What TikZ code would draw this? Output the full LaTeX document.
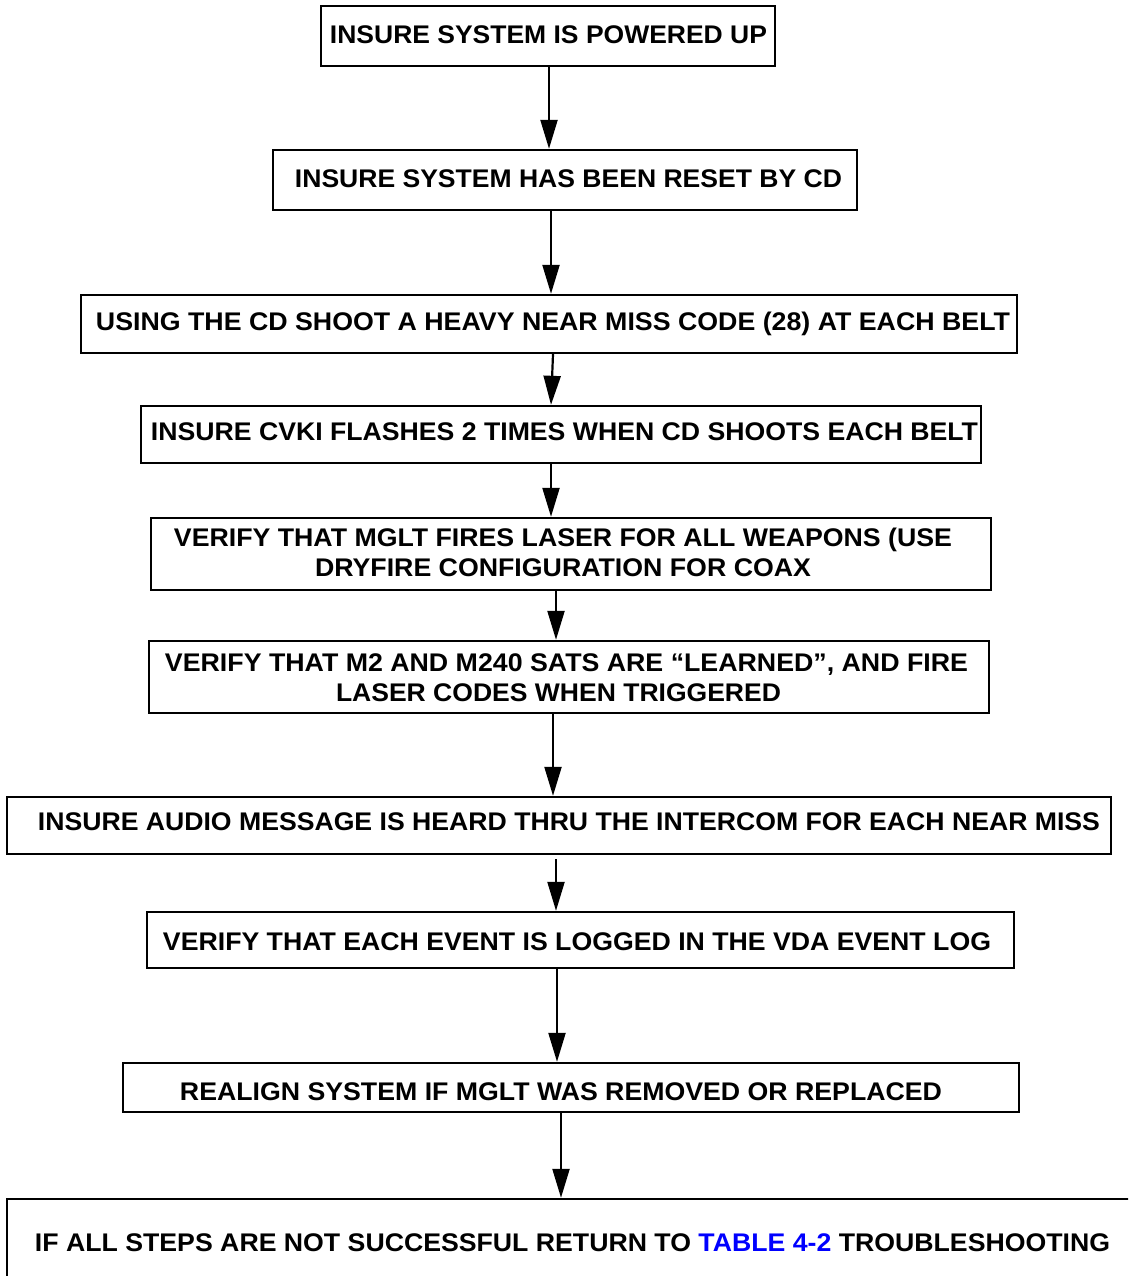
\documentclass[tikz,border=0pt]{standalone}
\usepackage{fontspec}
\setmainfont{Liberation Sans}
\usetikzlibrary{arrows.meta}
% set one line of text at a fixed width, keeping its height
\newcommand{\fitline}[2]{\resizebox{#1pt}{\height}{#2}}
\begin{document}
\begin{tikzpicture}[x=1pt,y=-1pt,
  box/.style={draw, line width=2.4pt, inner sep=0pt},
  lbl/.style={anchor=base, inner sep=0pt, font=\fontsize{25.5}{30}\selectfont\bfseries},
  arr/.style={-{Triangle[length=29pt,width=17pt]}, line width=2.2pt}]
\useasboundingbox (0,0) rectangle (1128,1276);
\clip (0,0) rectangle (1128,1276);
\fill[white] (0,0) rectangle (1128,1276);

% boxes
\node[box, minimum width=454, minimum height=60] (b1) at (548,36) {};
\node[box, minimum width=584, minimum height=60] (b2) at (565,180) {};
\node[box, minimum width=936, minimum height=58] (b3) at (549,324) {};
\node[box, minimum width=840, minimum height=57] (b4) at (561,434.5) {};
\node[box, minimum width=840, minimum height=72] (b5) at (571,554) {};
\node[box, minimum width=840, minimum height=72] (b6) at (569,677) {};
\node[box, minimum width=1104, minimum height=57] (b7) at (559,825.5) {};
\node[box, minimum width=867, minimum height=56] (b8) at (580.5,940) {};
\node[box, minimum width=896, minimum height=49] (b9) at (571,1087.5) {};
\node[box, minimum width=1143, minimum height=92] (b10) at (578.5,1245) {};

% labels
\node[lbl] (t1) at (548.5,44) {\fitline{437}{INSURE SYSTEM IS POWERED UP}};
\node[lbl] (t2) at (568.5,188) {\fitline{547}{INSURE SYSTEM HAS BEEN RESET BY CD}};
\node[lbl] (t3) at (553,330) {\fitline{914}{USING THE CD SHOOT A HEAVY NEAR MISS CODE (28) AT EACH BELT}};
\node[lbl] (t4) at (564.5,440) {\fitline{827}{INSURE CVKI FLASHES 2 TIMES WHEN CD SHOOTS EACH BELT}};
\node[lbl] (t5a) at (563,546) {\fitline{778}{VERIFY THAT MGLT FIRES LASER FOR ALL WEAPONS (USE}};
\node[lbl] (t5b) at (563,576) {\fitline{496}{DRYFIRE CONFIGURATION FOR COAX}};
\node[lbl] (t6a) at (566.5,671) {\fitline{803}{VERIFY THAT M2 AND M240 SATS ARE \textquotedblleft LEARNED\textquotedblright, AND FIRE}};
\node[lbl] (t6b) at (558.5,701) {\fitline{445}{LASER CODES WHEN TRIGGERED}};
\node[lbl] (t7) at (569,830) {\fitline{1062}{INSURE AUDIO MESSAGE IS HEARD THRU THE INTERCOM FOR EACH NEAR MISS}};
\node[lbl] (t8) at (577,950) {\fitline{828}{VERIFY THAT EACH EVENT IS LOGGED IN THE VDA EVENT LOG}};
\node[lbl] (t9) at (561,1100) {\fitline{762}{REALIGN SYSTEM IF MGLT WAS REMOVED OR REPLACED}};
\node[lbl] (t10) at (572.5,1251) {\fitline{1075}{IF ALL STEPS ARE NOT SUCCESSFUL RETURN TO \textcolor{blue}{TABLE 4-2} TROUBLESHOOTING}};

% connectors
\draw[arr] ([xshift=1pt]b1.south) -- ([xshift=-16pt]b2.north);
\draw[arr] ([xshift=-14pt]b2.south) -- ([xshift=2pt]b3.north);
\draw[arr] ([xshift=4pt]b3.south) -- ([xshift=-10pt]b4.north);
\draw[arr] ([xshift=-10pt]b4.south) -- ([xshift=-20pt]b5.north);
\draw[arr] ([xshift=-15pt]b5.south) -- ([xshift=-13pt]b6.north);
\draw[arr] ([xshift=-16pt]b6.south) -- ([xshift=-6pt]b7.north);
\draw[arr] ([xshift=-3pt,yshift=-4pt]b7.south) -- ([xshift=-24.5pt]b8.north);
\draw[arr] ([xshift=-23.5pt]b8.south) -- ([xshift=-14pt]b9.north);
\draw[arr] ([xshift=-10pt]b9.south) -- ([xshift=-17.5pt]b10.north);
\end{tikzpicture}
\end{document}
